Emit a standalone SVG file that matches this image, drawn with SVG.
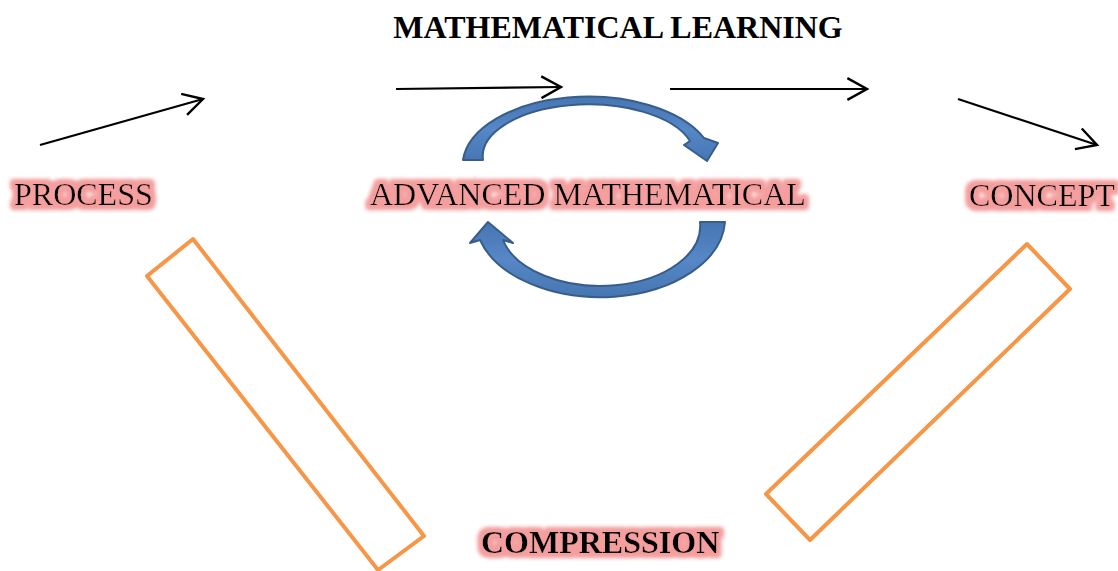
<svg xmlns="http://www.w3.org/2000/svg" width="1118" height="571" viewBox="0 0 1118 571">
  <style>
    .lbl { font-family: "Liberation Serif", "Times New Roman", serif; font-size: 32px; fill: #000; }
    .bold { font-weight: bold; }
    .conn { fill: none; stroke: #000; stroke-width: 2.2; marker-end: url(#open); }
    .band { fill: none; stroke: #F79646; stroke-width: 4; stroke-linejoin: round; }
    .circ { fill: url(#blueGrad); stroke: #385D8A; stroke-width: 2; stroke-linejoin: round; }
  </style>
  <defs>
    <marker id="open" markerUnits="userSpaceOnUse" markerWidth="24" markerHeight="24" viewBox="0 0 22 22" refX="19" refY="11" orient="auto">
      <path d="M1,1 L19,11 L1,21" fill="none" stroke="#000" stroke-width="2.2"/>
    </marker>
    <linearGradient id="blueGrad" x1="0" y1="0" x2="0" y2="1">
      <stop offset="0" stop-color="#4676B2"/>
      <stop offset="0.5" stop-color="#5687C6"/>
      <stop offset="1" stop-color="#4676B2"/>
    </linearGradient>
    <filter id="glow" x="-15%" y="-50%" width="130%" height="200%">
      <feMorphology in="SourceAlpha" operator="dilate" radius="4" result="d"/>
      <feGaussianBlur in="d" stdDeviation="2.2" result="b"/>
      <feFlood flood-color="#F49E9E"/>
      <feComposite in2="b" operator="in" result="g"/>
      <feMerge><feMergeNode in="g"/><feMergeNode in="g"/><feMergeNode in="SourceGraphic"/></feMerge>
    </filter>
  </defs>

  <g id="title">
    <text class="lbl bold" x="618" y="38" text-anchor="middle">MATHEMATICAL LEARNING</text>
  </g>

  <g id="connectors">
    <line class="conn" x1="40" y1="145" x2="203" y2="99"/>
    <line class="conn" x1="396" y1="89" x2="561" y2="87"/>
    <line class="conn" x1="670" y1="89" x2="867" y2="89"/>
    <line class="conn" x1="958" y1="99" x2="1097" y2="145"/>
  </g>

  <g id="cycle">
    <path class="circ" d="M463,160 A126,69 0 0 1 704,138 L718,143 L707,161 L684,145 L690,141 A106,52 0 0 0 483,160 Z"/>
    <path class="circ" d="M725,222 A125,79 0 0 1 480,240 L470,243 L488,222 L513,243 L503,240 A100,60 0 0 0 700,222 Z"/>
  </g>

  <g id="process">
    <text class="lbl" x="14" y="205" filter="url(#glow)">PROCESS</text>
  </g>
  <g id="advanced">
    <text class="lbl" x="370" y="205" filter="url(#glow)">ADVANCED MATHEMATICAL</text>
  </g>
  <g id="concept">
    <text class="lbl" x="969" y="206" filter="url(#glow)">CONCEPT</text>
  </g>
  <g id="compression">
    <text class="lbl bold" x="481" y="553" filter="url(#glow)">COMPRESSION</text>
  </g>

  <g id="left-band">
    <polygon class="band" points="193,239 424,536 378,570 147,276"/>
  </g>
  <g id="right-band">
    <polygon class="band" points="1027,244 1070,289 810,540 766,494"/>
  </g>
</svg>
